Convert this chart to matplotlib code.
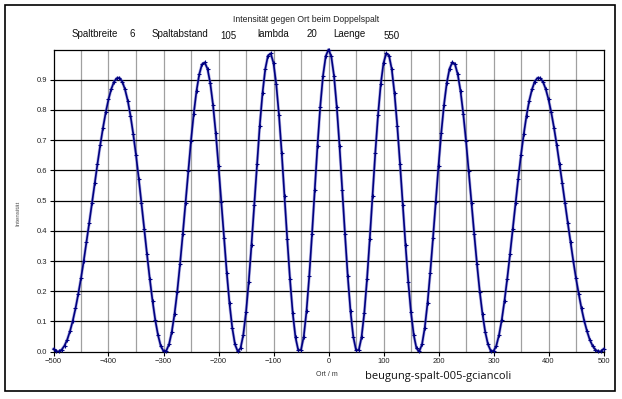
import numpy as np
import matplotlib
matplotlib.use("Agg")
from matplotlib import pyplot as plt
from matplotlib.patches import Rectangle

plt.rcParams['font.family'] = ['Liberation Sans', 'DejaVu Sans']

# Ort in m, Schrittweite 5
ort = np.arange(-500, 505, 5)

# Intensitaet, von -500 bis 500
intensitaet = [
    0.009, 0.001, 0.001, 0.007, 0.020, 0.040, 0.068, 0.102, 0.143, 0.191,
    0.243, 0.301, 0.363, 0.427, 0.492, 0.558, 0.622, 0.684, 0.741, 0.792,
    0.835, 0.869, 0.893, 0.905, 0.906, 0.894, 0.868, 0.831, 0.781, 0.720,
    0.651, 0.573, 0.491, 0.406, 0.322, 0.242, 0.169, 0.105, 0.055, 0.019,
    0.002, 0.003, 0.024, 0.065, 0.124, 0.199, 0.289, 0.388, 0.492, 0.597,
    0.698, 0.788, 0.863, 0.918, 0.951, 0.957, 0.936, 0.889, 0.817, 0.724,
    0.615, 0.497, 0.376, 0.262, 0.160, 0.079, 0.024, 0.001, 0.011, 0.055,
    0.130, 0.232, 0.354, 0.487, 0.622, 0.748, 0.855, 0.935, 0.980, 0.987,
    0.955, 0.885, 0.782, 0.656, 0.515, 0.372, 0.239, 0.127, 0.047, 0.005,
    0.006, 0.050, 0.134, 0.250, 0.388, 0.536, 0.682, 0.811, 0.913, 0.978,
    1.000,
    0.978, 0.913, 0.811, 0.682, 0.536, 0.388, 0.250, 0.134, 0.050, 0.006,
    0.005, 0.047, 0.127, 0.239, 0.372, 0.515, 0.656, 0.782, 0.885, 0.955,
    0.987, 0.980, 0.935, 0.855, 0.748, 0.622, 0.487, 0.354, 0.232, 0.130,
    0.055, 0.011, 0.001, 0.024, 0.079, 0.160, 0.262, 0.376, 0.497, 0.615,
    0.724, 0.817, 0.889, 0.936, 0.957, 0.951, 0.918, 0.863, 0.788, 0.698,
    0.597, 0.492, 0.388, 0.289, 0.199, 0.124, 0.065, 0.024, 0.003, 0.002,
    0.019, 0.055, 0.105, 0.169, 0.242, 0.322, 0.406, 0.491, 0.573, 0.651,
    0.720, 0.781, 0.831, 0.868, 0.894, 0.906, 0.905, 0.893, 0.869, 0.835,
    0.792, 0.741, 0.684, 0.622, 0.558, 0.492, 0.427, 0.363, 0.301, 0.243,
    0.191, 0.143, 0.102, 0.068, 0.040, 0.020, 0.007, 0.001, 0.001, 0.009,
]

params = [('Spaltbreite', 72), ('6', 130), ('Spaltabstand', 152), ('105', 220),
          ('lambda', 257), ('20', 307), ('Laenge', 333), ('550', 384)]

W, H = 622, 399
fig = plt.figure(figsize=(W / 100, H / 100), dpi=100)
fig.patch.set_facecolor('white')

ax = fig.add_axes([53.5 / W, 1 - 351.7 / H, 550 / W, 302.2 / H])

# gitter
for xv in np.arange(-450, 500, 50):
    ax.axvline(xv, color='#a0a0a0', lw=0.9, zorder=1)
for yv in np.arange(0.1, 1.0, 0.1):
    ax.axhline(yv, color='black', lw=0.9, zorder=1)

ax.plot(ort, intensitaet, color='#6a6ac8', lw=2.2, alpha=0.5, zorder=2,
        clip_on=False)
ax.plot(ort, intensitaet, color='#000080', lw=1.2, marker='+', ms=2.6,
        mew=0.8, zorder=3, clip_on=False)

ax.set_xlim(-500, 500)
ax.set_ylim(0, 1.0)
ax.set_xticks(np.arange(-500, 501, 100))
ax.set_yticks(np.arange(0, 0.95, 0.1))
ax.set_yticklabels(['%.1f' % v for v in np.arange(0, 0.95, 0.1)])
ax.tick_params(labelsize=5.5, length=3, width=0.8, color='black',
               labelcolor='#222222', pad=1.5)
for s in ax.spines.values():
    s.set_linewidth(0.9)
    s.set_color('black')

fig.text(327 / W, 1 - 375 / H, 'Ort / m', fontsize=5, color='#333333',
         ha='center', va='center')
fig.text(18 / W, 1 - 213 / H, 'Intensität', fontsize=4.5, color='#555555',
         rotation=90, ha='center', va='center')
fig.text(306 / W, 1 - 20 / H, 'Intensität gegen Ort beim Doppelspalt',
         fontsize=6.2, color='#222222', ha='center', va='center')
for txt, xp in params:
    yp = 36 if txt in ('105', '550') else 34
    fig.text(xp / W, 1 - yp / H, txt, fontsize=7, color='#111111',
             ha='left', va='center')
fig.text(365 / W, 1 - 377 / H, 'beugung-spalt-005-gciancoli', fontsize=8,
         family=['Open Sans', 'DejaVu Sans'], color='#111111',
         ha='left', va='center')

fig.patches.append(Rectangle((5 / W, 1 - 391 / H), 610 / W, 386 / H,
                             transform=fig.transFigure, fill=False,
                             edgecolor='black', lw=1.2))

plt.savefig('out.png', dpi=100)
